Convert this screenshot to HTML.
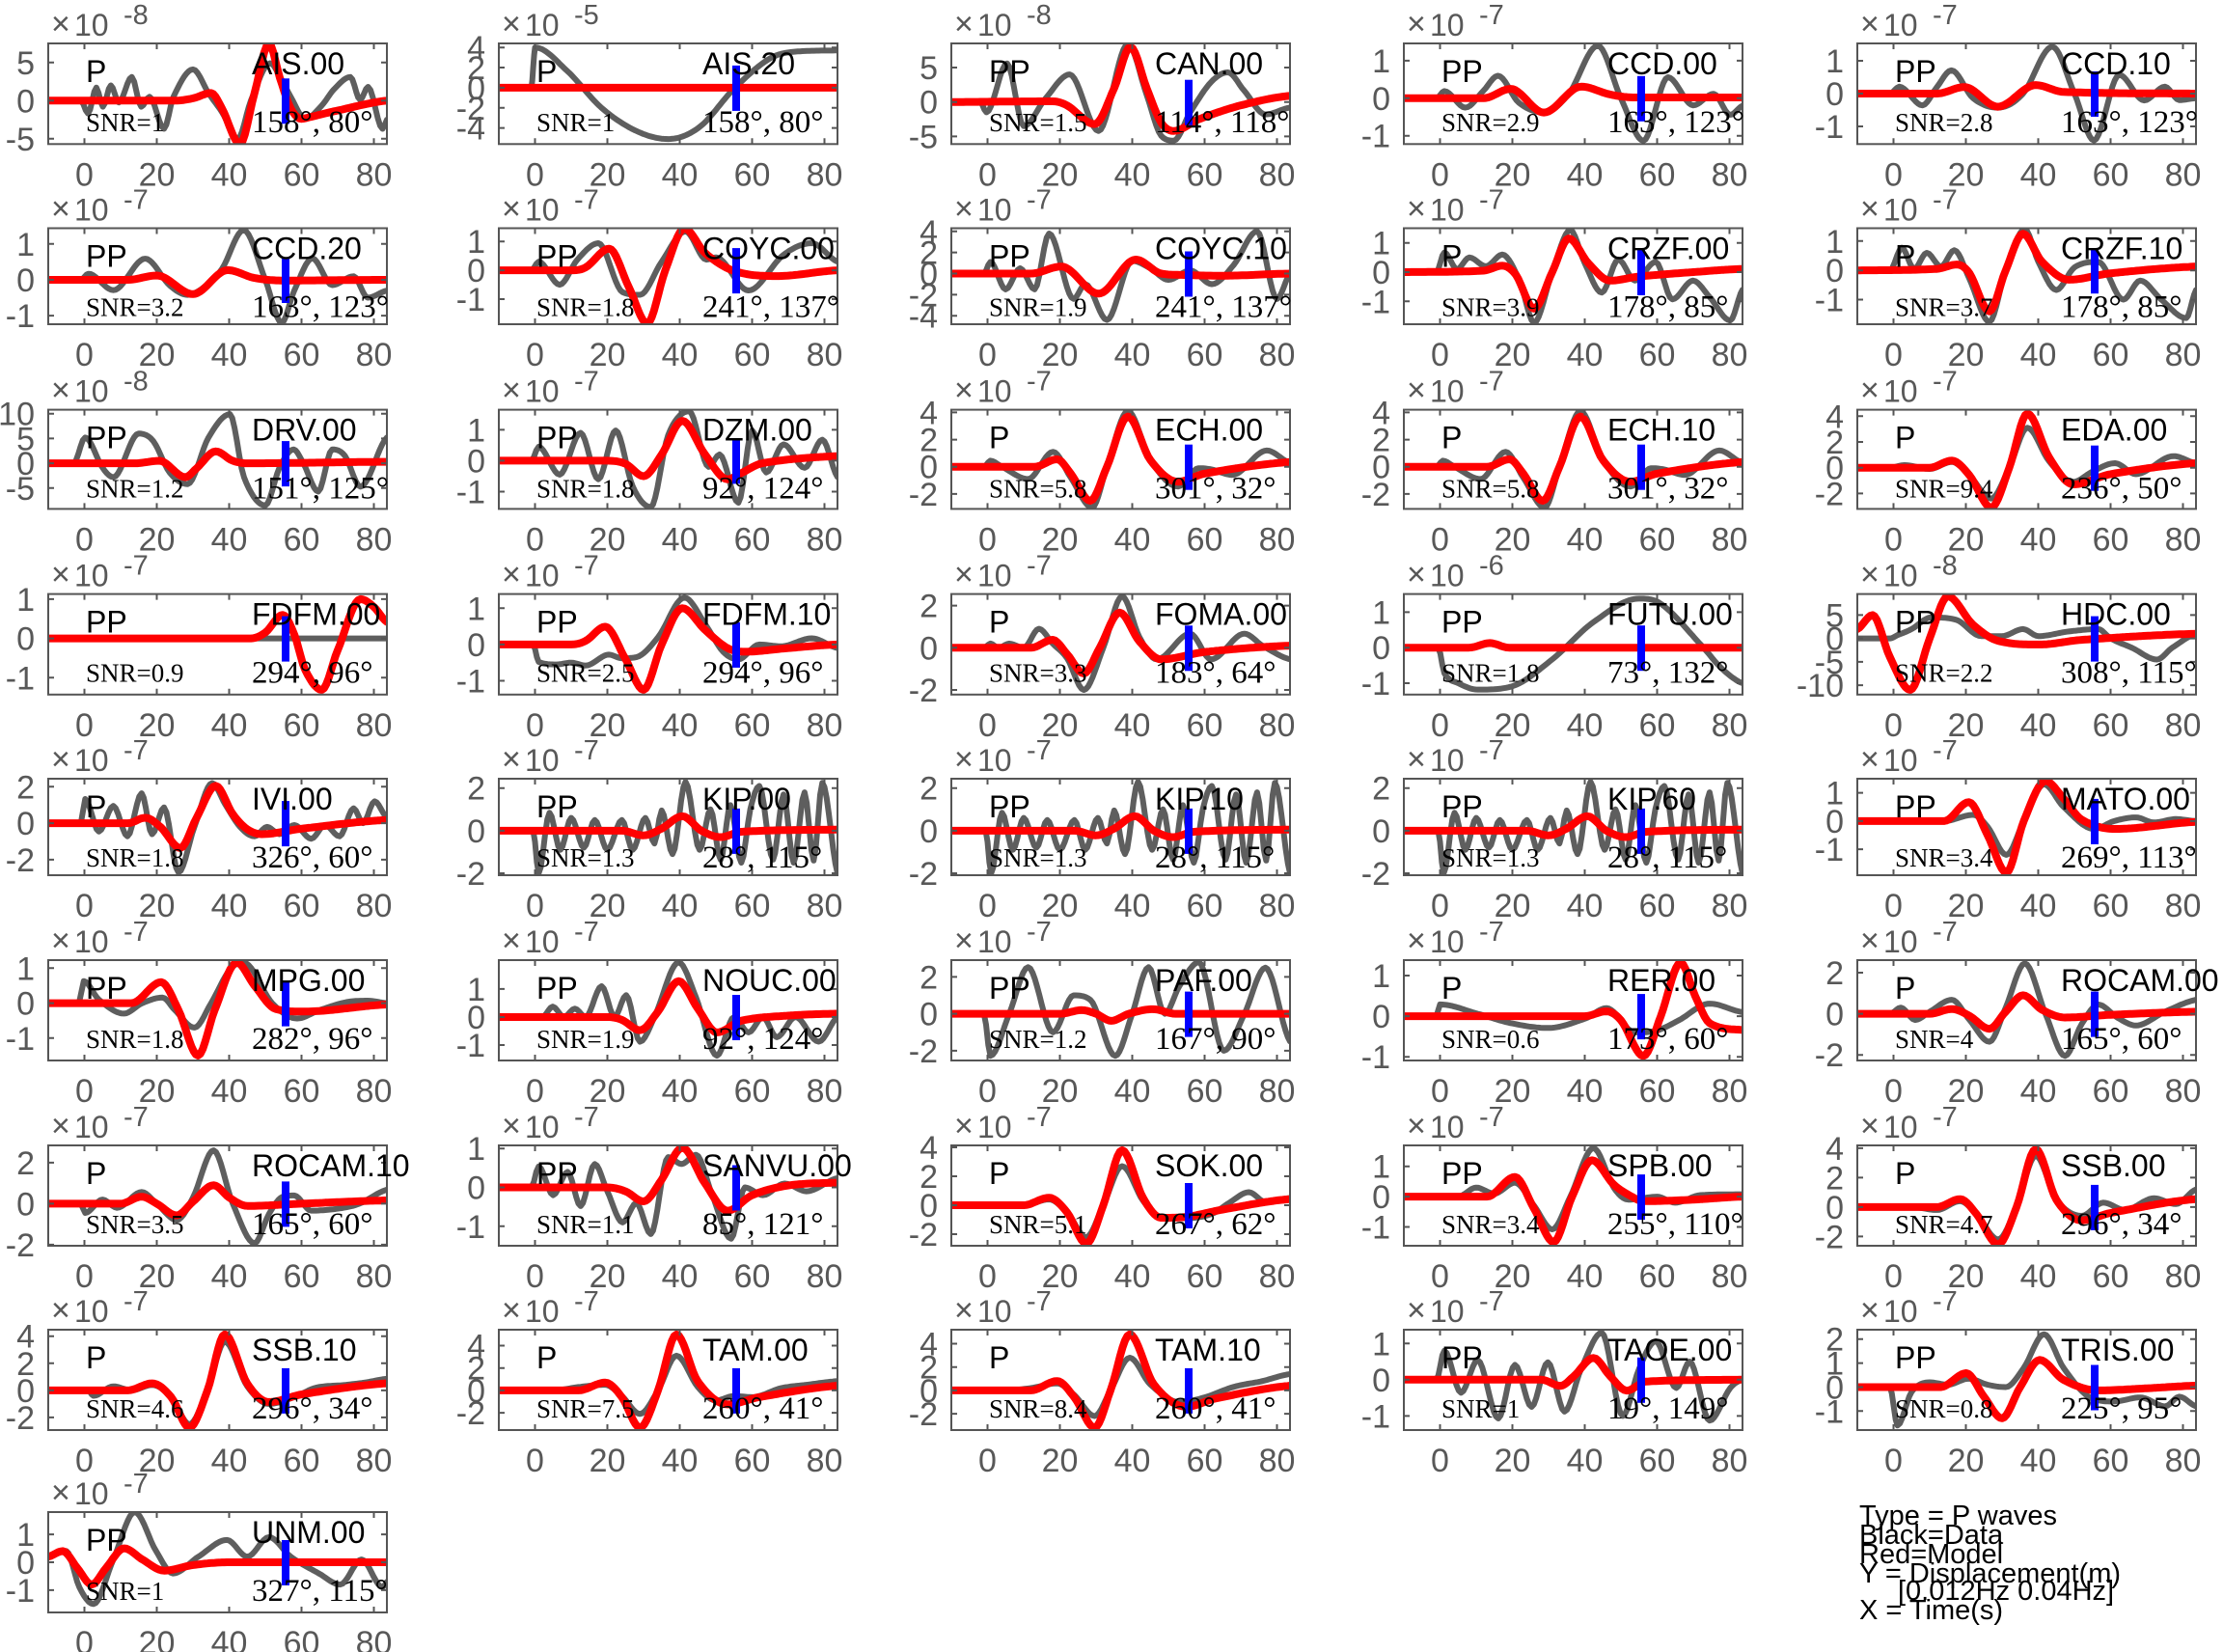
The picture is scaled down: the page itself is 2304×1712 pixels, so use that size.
<!DOCTYPE html>
<html><head><meta charset="utf-8">
<style>
html,body{margin:0;padding:0;background:#fff;}
svg{display:block}
.tk{font-family:"Liberation Sans",Arial,sans-serif;font-size:34px;fill:#585858}
.te{font-family:"Liberation Sans",Arial,sans-serif;font-size:29px;fill:#585858}
.tt{font-family:"Liberation Sans",Arial,sans-serif;font-size:32px;fill:#585858}
.tx{font-family:"Liberation Sans",Arial,sans-serif;font-size:34px;fill:#585858}
.lb{font-family:"Liberation Sans",Arial,sans-serif;font-size:32px;fill:#000}
.sn{font-family:"Liberation Serif",serif;font-size:27px;fill:#000}
.az{font-family:"Liberation Serif",serif;font-size:33px;fill:#000}
.lg{font-family:"Liberation Sans",Arial,sans-serif;font-size:29px;fill:#000}
</style></head>
<body>
<svg id="c" xmlns="http://www.w3.org/2000/svg" width="2304" height="1712" viewBox="0 0 2304 1712">
<rect x="0" y="0" width="2304" height="1712" fill="#fff"/>
<text class="lg" x="1927" y="1580">Type = P waves</text>
<text class="lg" x="1927" y="1600">Black=Data</text>
<text class="lg" x="1927" y="1620">Red=Model</text>
<text class="lg" x="1927" y="1640">Y = Displacement(m)</text>
<text class="lg" x="1967" y="1658">[0.012Hz 0.04Hz]</text>
<text class="lg" x="1927" y="1678">X = Time(s)</text>
</svg>
<script>
const rowsT=[45,236.5,424.6,615.6,807,995,1187,1378,1567];
const rowsB=[149.3,336,527.4,719.8,907,1099,1291,1482,1671];
const colsL=[50,517,986,1455,1925];
const W=351;
const ECHg=[-10,0,-1,0,0.8,0.45,4,0,11.2,-0.9,18.1,1.1,23,-0.8,28.9,-3.0,33,0,38.8,4.1,45,0.5,52.6,-1.45,58.4,-0.1,62,-0.2,67.6,-0.6,77.2,1.2,83.6,0.3];
const ECHr=[-10,0,13,0,19.2,0.55,23,-0.5,28.4,-2.5,33,0,38.8,3.7,45,0.5,52.6,-1.1,60,-0.5,83.6,0.35];
const KIPg=[-10,0,-0.5,0,1,-2.0,4,0.84,7,-0.9,10,0.6,13.5,-0.8,16.5,0.5,20,-0.9,24,0.5,27,-0.9,30.5,0.6,33,-0.6,35,0.95,38,-1.1,41.6,2.3,45.5,-0.9,48.5,1.0,51.3,-1.36,54,1.2,57,-1.5,59.5,1.0,62,2.1,65.8,-1.36,68.7,1.7,71.5,-1.5,74.5,1.8,77,-1.4,79.4,2.25,83.6,-2.0];
const KIPr=[-10,0,24,0,30,-0.22,35,0.1,40.7,0.68,46,0,51.3,-0.3,57,-0.05,83.6,0.05];
const P=[
["AIS.00","-8","P","SNR=1","158°, 80°",-5.7,7.5,[5,0,-5],
[-10,0,-1,0,1,-1.7,3.3,1.7,5.1,-0.8,7.3,2.0,9.5,-0.25,13.1,3.1,15.7,-0.8,18,0.5,22,-3.7,24.6,0.5,30,4.1,34.4,0.9,38,-1.5,42.4,-5.0,46,0,51.3,4.9,54.8,2.5,57,0.5,61,-2.4,65.5,-0.7,69,1.5,73.5,3.1,76.2,0.1,78.4,1.8,82.4,-3.7,83.6,-2.5],
[-10,0,25,0,30,0.3,35,1.0,38,-1,43,-5.7,47,1,51,7.5,54,3,57,-1,60,-2.4,62,-2.2,70,-1.3,83.6,0]],
["AIS.20","-5","P","SNR=1","158°, 80°",-5.6,4.4,[4,2,0,-2,-4],
[-10,0,-1,0,-0.5,2,0,4.0,8.8,1.7,18.4,-2,28,-4.3,36.8,-5.1,45.5,-3.9,55,-0.1,64.9,2.9,72.6,3.6,83.6,3.7],
[-10,0,83.6,0]],
["CAN.00","-8","PP","SNR=1.5","114°, 118°",-6.1,8.5,[5,0,-5],
[-10,0,-2,0,-0.3,-1.5,5.4,5.6,10,-3.5,16,0.5,22.7,4.0,30.7,-4.2,38.8,8.4,44,1,48,-4.9,51.5,-5.6,56,-1.5,61.8,2.9,66.4,4.3,71,1.6,76.8,-1.8,83.6,-0.8],
[-10,0,18,0.1,22,-0.5,29.6,-3.2,35,2,39.5,8.0,44,2,48,-3,51.5,-4.2,58.4,-2.5,69.9,-0.5,83.6,0.9]],
["CCD.00","-7","PP","SNR=2.9","163°, 123°",-1.22,1.46,[1,0,-1],
[-10,0,-1,0,1.2,0.19,7,-0.25,12,0.2,16,0.6,21.8,-0.12,28.7,-0.38,35.6,0.12,43.6,1.4,50,0,56.2,-1.13,63,0.56,70,-0.19,75.6,0.12,80.2,-0.44,83.6,-0.2],
[-10,0,12,0,19.5,0.25,28.7,-0.38,39,0.31,47,0.1,53.9,0.02,83.6,0.02]],
["CCD.10","-7","PP","SNR=2.8","163°, 123°",-1.54,1.53,[1,0,-1],
[-10,0,-1,0,1.6,0.21,8,-0.36,12,0.2,16,0.71,22,-0.14,28.8,-0.43,35.8,0,43.9,1.43,50,0,55.4,-1.43,62.4,0.57,69.3,-0.21,75,0.21,79,-0.2,83.6,-0.14],
[-10,0,12,0,19.6,0.2,28.8,-0.4,39.3,0.26,47,0.05,83.6,0]],
["CCD.20","-7","PP","SNR=3.2","163°, 123°",-1.24,1.44,[1,0,-1],
[-10,0,-1,0,1.1,0.17,8,-0.29,16.8,0.59,23.6,-0.16,28.5,-0.42,33.4,-0.18,38,0.3,44,1.39,50,0,54.5,-1.2,58,-0.3,63,0.6,68.5,-0.15,74.4,0.1,78.3,-0.5,83.6,-0.3],
[-10,0,12,0,20,0.12,30,-0.4,39.6,0.27,47,0.05,55,-0.02,83.6,0]],
["COYC.00","-7","PP","SNR=1.8","241°, 137°",-1.87,1.46,[1,0,-1],
[-10,0,-1,0,1,0.3,6.8,-0.5,11.7,0.37,17.5,0.94,24.2,-0.76,29,-0.85,35,0.3,41.6,1.35,47.4,0.37,50,0.45,59,-0.7,68.7,0.54,76.5,0.94,83.6,0.3],
[-10,0,10,0,14,0.1,20.5,0.75,26,-0.6,31,-1.85,36,0,41.3,1.45,47,0.6,55.2,-0.03,66.8,-0.2,83.6,0]],
["COYC.10","-7","PP","SNR=1.9","241°, 137°",-4.8,4.3,[4,2,0,-2,-4],
[-10,0,-1,0,0.8,1.1,5,-1.5,9,0.5,13,-1.5,17,3.8,23.8,-2.4,27,-1,33,-4.4,40,1.2,45,0.5,50,-0.6,56,0.3,62,-1,68,0.8,74.5,4.0,80,-2.4,83.6,0],
[-10,0,12,0,20.4,0.67,30.7,-1.9,41,1.33,48,0,53.7,-0.13,65,-0.2,83.6,0]],
["CRZF.00","-7","P","SNR=3.9","178°, 85°",-1.78,1.5,[1,0,-1],
[-10,0,-1,0,1.2,0.67,4.7,0.1,8.1,0.5,12.7,0.2,17.2,0.6,22,-0.3,26,-1.73,31,0,36,1.44,40,0.3,44.7,-0.7,49.3,0.43,53.9,-0.29,59.6,0.35,64.2,-0.93,69.9,-0.29,74.5,-0.85,80.2,-1.65,83.6,-0.6],
[-10,0,12,0.05,17.2,0.22,21,-0.1,26,-1.25,31,0,35.6,1.15,41,0.3,47,-0.29,55,-0.15,70,0,83.6,0.11]],
["CRZF.10","-7","P","SNR=3.7","178°, 85°",-1.84,1.44,[1,0,-1],
[-10,0,-1,0,2.3,0.77,5.7,0.05,9.2,0.6,13.1,0.13,16.8,0.69,21,-0.3,26.5,-1.76,31,0,36.3,1.41,40,0.3,45,-0.67,50,0.1,56.6,0.29,63.5,-1.0,68.2,-0.35,74,-1,80.9,-1.63,83.6,-0.67],
[-10,0,12,0.05,17.5,0.2,21,-0.1,26.5,-1.4,31,0,35.8,1.25,41,0.3,48.5,-0.32,60,-0.1,83.6,0.13]],
["DRV.00","-8","PP","SNR=1.2","151°, 125°",-9.2,10.8,[10,5,0,-5],
[-10,0,-3,0,0.2,5.2,5,-0.9,8,-2.8,15,6.0,19,4.5,23.6,-1.9,28.5,-4.2,34.3,5.2,40.2,9.9,44.1,-2.8,50,-8.5,53.9,-0.9,57.8,2.8,60.5,0,64.6,-5.7,68.5,2.8,72,1.5,76.3,-4.7,83.6,5.2],
[-10,0,14,0,20.7,0.5,27.9,-2.8,31,-1,36.3,2.4,41,0.5,45,0,83.6,0.3]],
["DZM.00","-7","PP","SNR=1.8","92°, 124°",-1.56,1.65,[1,0,-1],
[-10,0,-1,0,1,0.45,6.8,-0.45,12.6,0.9,17.5,-0.6,22.3,0.98,27,-0.83,32,-1.5,36.8,0.83,42.6,1.6,48,-0.2,51,0.2,56.2,-1.36,60,0.98,63.9,-0.38,68.7,0.53,74.5,-0.23,79.4,0.68,83.6,-0.53],
[-10,0,20,0,25,-0.1,30,-0.5,35,0.2,40.7,1.29,47,0.2,53.2,-0.6,57,-0.4,62.9,-0.08,83.6,0.15]],
["ECH.00","-7","P","SNR=5.8","301°, 32°",-3.1,4.2,[4,2,0,-2],ECHg,ECHr],
["ECH.10","-7","P","SNR=5.8","301°, 32°",-3.1,4.2,[4,2,0,-2],ECHg,ECHr],
["EDA.00","-7","P","SNR=9.4","236°, 50°",-3.2,4.5,[4,2,0,-2],
[-10,0,-1,0,3,0.2,10,-0.1,16.1,0.45,21,-0.6,27,-2.4,32,0,37,3.1,43,0.5,49.7,-1.1,55,-0.3,61.2,0.35,67,-0.5,77.4,0.9,83.6,0.35],
[-10,0,10,0,16.1,0.55,21,-0.6,27,-3.1,32,0,37,4.2,43,0.8,49.7,-1.3,60,-0.5,83.6,0.35]],
["FDFM.00","-7","PP","SNR=0.9","294°, 96°",-1.43,1.13,[1,0,-1],
[-10,0,83.6,0],
[-10,0,46,0,50,0.15,54.8,0.6,58,0.1,61,-0.8,65.6,-1.31,70,-0.3,76.3,1.0,80,0.8,83.6,0.42]],
["FDFM.10","-7","PP","SNR=2.5","294°, 96°",-1.38,1.39,[1,0,-1],
[-10,0,-0.5,0,1,-0.48,6,-0.55,10,-0.5,14,-0.58,20.4,-0.28,24,-0.38,28,-0.35,34,0.2,41.3,1.29,47.4,0.5,52,-0.2,56.2,-0.41,62,0,68,-0.05,76.5,0.17,83.6,-0.1],
[-10,0,10,0,14,0.1,19.4,0.49,25,-0.4,30,-1.25,35,0,40.7,1.0,47,0.4,53.2,-0.1,58,-0.2,70,-0.1,83.6,0]],
["FOMA.00","-7","P","SNR=3.3","183°, 64°",-2.22,2.55,[2,0,-2],
[-10,0,-1,0,0.8,0.2,3,0,6,0.2,10,0,14.2,0.9,18,0.2,22,-0.5,26.6,-2.0,32,0,37.2,2.44,42,0.5,46.8,-0.55,56,0.67,61.8,-0.55,71,0.67,76,0.1,83.6,-0.55],
[-10,0,12,0,18,0.38,22,-0.3,26.6,-1.22,31,0,36.5,1.67,42,0.3,48,-0.55,60,-0.2,83.6,0.1]],
["FUTU.00","-6","PP","SNR=1.8","73°, 132°",-1.32,1.51,[1,0,-1],
[-10,0,-0.5,0,1.2,-0.72,5,-1.0,10.4,-1.18,19.5,-1.1,31,-0.33,42.4,0.72,55,1.38,60.8,1.25,72.2,0.07,77.9,-0.59,83.6,-1.0],
[-10,0,8,0,13.8,0.13,19,0,83.6,0]],
["HDC.00","-8","PP","SNR=2.2","308°, 115°",-12,9.5,[5,0,-5,-10],
[-10,0,-1,0,1.1,0.7,5,2,10.4,4.5,17.3,4,24.2,0.5,30,0.5,35.8,2,40,0.5,48.5,1.5,56.6,2,60,0,65.9,-2,72.8,-4.5,77,-2,83.6,1],
[-10,2,-5.8,5,-1,-4,4.6,-11,10,0,15,9,21.9,3,28.9,-0.5,40.4,-1.3,52,-0.3,83.6,1]],
["IVI.00","-7","P","SNR=1.8","326°, 60°",-2.85,2.44,[2,0,-2],
[-10,0,-1,0,0.2,1.33,4,-0.46,8,0.95,11.9,-0.72,15.8,1.64,18.7,-0.6,22,0.87,26,-2.7,30.4,-0.2,35.3,2.2,39,1.0,43,-0.2,47,-0.72,50.5,-0.2,53.9,-0.6,58,-0.1,62.7,-0.85,66.5,-0.1,70.5,-0.72,74.4,0.82,77,0,80.2,1.2,83.6,0.3],
[-10,0,12,0,16.8,0.3,21,-0.2,26.5,-1.36,31,0.3,36.3,2.05,41,0.5,45,-0.33,49,-0.6,60,-0.3,83.6,0.18]],
["KIP.00","-7","PP","SNR=1.3","28°, 115°",-2.09,2.44,[2,0,-2],KIPg,KIPr],
["KIP.10","-7","PP","SNR=1.3","28°, 115°",-2.09,2.44,[2,0,-2],KIPg,KIPr],
["KIP.60","-7","PP","SNR=1.3","28°, 115°",-2.09,2.44,[2,0,-2],KIPg,KIPr],
["MATO.00","-7","PP","SNR=3.4","269°, 113°",-1.92,1.5,[1,0,-1],
[-10,0,14,0,22,0.22,26,-0.2,31.2,-1.2,36,0,41.6,1.3,47,0.5,55.4,-0.28,61,0,67,0.13,72,-0.05,78,0.07,83.6,0],
[-10,0,14,0,20.8,0.67,26,-0.5,31.2,-1.83,36,0,42,1.42,47,0.8,52,0.05,61.2,-0.28,83.6,-0.03]],
["MPG.00","-7","PP","SNR=1.8","282°, 96°",-1.64,1.23,[1,0,-1],
[-10,0,-1.5,0,-0.2,0.63,4,0.1,10.9,-0.3,16,0,21.6,0.16,25,-0.2,30.4,-0.7,35,0,40.2,0.96,44,1.16,51.9,0,58.8,-0.44,65,-0.2,72.4,0.03,78.3,0.07,83.6,0],
[-10,0,13,0,21.2,0.6,26,-0.2,31.4,-1.5,36,-0.2,42.1,1.16,47,0.5,52.9,-0.17,60.7,-0.24,83.6,-0.04]],
["NOUC.00","-7","PP","SNR=1.9","92°, 124°",-1.55,2.03,[1,0,-1],
[-10,0,2,0,4.9,0.37,8,0,11,0.3,14,0,18.4,1.1,22,0,25.2,0.78,29,-0.88,33,0,39.7,1.95,44.5,0.7,50.3,-1.38,55,0,59,-0.55,63,0,66.8,-0.72,72,0,78.4,-0.88,83.6,0],
[-10,0,20,0,24,-0.1,29,-0.47,34,0.2,39.7,1.28,45,0.3,50.3,-0.55,57.1,-0.13,70,0.05,83.6,0.12]],
["PAF.00","-7","PP","SNR=1.2","167°, 90°",-2.53,2.91,[2,0,-2],
[-10,0,-1,0,0.8,-2.28,6,0,11.2,2.53,18.1,-1.0,23.8,1.0,28.4,0.76,35.3,-2.28,40,0,44.5,2.53,49,0,53,1.5,58.4,2.8,65.3,-2.0,71,0,76.8,2.5,83.6,-1.5],
[-10,0,20,0,26.1,0.2,30,0,34.2,-0.38,39,0,45.7,0.25,52,0,83.6,0]],
["RER.00","-7","P","SNR=0.6","173°, 60°",-1.09,1.38,[1,0,-1],
[-10,0,-1,0,0,0.29,10.4,0.06,19.5,-0.17,29.8,-0.29,40.1,-0.06,46,0.2,53.9,-0.4,60,-0.35,66,-0.1,74.5,0.31,83.6,0.1],
[-10,0,40,0,45.9,0.12,50,-0.1,56.2,-0.98,61,0,66.5,1.32,70.5,0.5,74.5,-0.17,83.6,-0.34]],
["ROCAM.00","-7","P","SNR=4","165°, 60°",-2.27,2.61,[2,0,-2],
[-10,0,-1,0,2,0.3,6,-0.3,10,0.1,16.1,0.68,21,-0.3,26.5,-1.36,31,0.3,36.3,2.45,42,0,47.4,-2.05,52,-0.5,56.6,0.45,62,-0.2,67,-0.57,75,0.1,83.6,0.68],
[-10,0,10,0,16.1,0.23,21,-0.1,26.5,-0.73,31,0.1,35.8,0.9,41,0.2,47.4,-0.18,60,-0.05,83.6,0.1]],
["ROCAM.10","-7","P","SNR=3.5","165°, 60°",-2.05,2.84,[2,0,-2],
[-10,0,-1,0,0.2,-0.45,5,0.2,9,-0.2,15.8,0.57,20,0,25.5,-0.8,30,0.3,35.7,2.6,41,0,47,-1.93,51,-0.5,54.8,0.34,58,0.4,62.7,-0.34,70.5,-0.23,76,0,83.6,0.68],
[-10,0,10,0,15.8,0.34,20,0,25.5,-0.57,30,0.1,35.7,0.9,40,0.3,45,-0.11,60,0,83.6,0.16]],
["SANVU.00","-7","PP","SNR=1.1","85°, 121°",-1.5,1.08,[1,0,-1],
[-10,0,-1,0,1,0.54,5,-0.2,9,0.4,12.6,-0.48,16.5,0.6,20,-0.1,24.2,-0.9,28,-0.4,32,-1.2,36.8,0.78,40.5,0.6,44.5,0.84,49,-0.2,54.2,-1.32,58,0,63,-0.2,69,0.1,75,-0.1,83.6,0.24],
[-10,0,20,0,25,-0.1,30,-0.36,35,0.2,40.7,1.02,47,0.1,53.2,-0.6,60,-0.2,70,0.05,83.6,0.12]],
["SOK.00","-7","P","SNR=5.1","267°, 62°",-2.8,4.13,[4,2,0,-2],
[-10,0,-1,0,10,0,17,0.4,22,-0.5,27.3,-2.2,32,0,37.2,2.7,43,0.3,48,-0.9,55,-0.9,62,-0.6,67,0.2,72.2,0.9,77,0.2,83.6,0.5],
[-10,0,10,0,17,0.52,22,-0.5,27.3,-2.65,32,0,37.2,3.8,43,0.5,48,-0.87,55,-0.8,65,-0.3,83.6,0.42]],
["SPB.00","-7","PP","SNR=3.4","255°, 110°",-1.62,1.69,[1,0,-1],
[-10,0,5,0,10,0.3,15,0.1,20.7,0.46,26,-0.3,31,-1.08,36,0,42.4,1.6,48,0.3,52,-0.1,56,-0.05,60,0,65,-0.2,72,0.05,83.6,0.08],
[-10,0,13,0,20.7,0.65,26,-0.4,31.4,-1.5,36.5,0,42,1.2,48,0.4,53,0,56.2,-0.15,70,-0.1,83.6,0]],
["SSB.00","-7","P","SNR=4.7","296°, 34°",-2.63,4.19,[4,2,0,-2],
[-10,0,5,0,12,-0.2,18.4,0.4,23,-0.5,28.9,-2.2,34,0,39.3,3.5,45,0.5,52,-0.6,58,0.3,64,-0.2,72,0.6,78,0.2,83.6,1.2],
[-10,0,12,0,18.4,0.54,23,-0.5,28.9,-2.54,34,0,39.3,3.94,45,0.5,52,-0.9,60,-0.4,83.6,0.54]],
["SSB.10","-7","P","SNR=4.6","296°, 34°",-2.93,4.48,[4,2,0,-2],
[-10,0,1,0,2.5,-0.4,8,0.3,13,0,18.7,0.4,24,-0.5,29,-2.5,34,0,38.8,3.6,45,0.3,51,-1.0,58,-0.5,64,0.2,72,0.4,78,0.6,83.6,0.86],
[-10,0,12,0,18.7,0.52,24,-0.5,29,-2.76,34,0,38.8,4.14,45,0.5,51,-0.86,60,-0.3,83.6,0.52]],
["TAM.00","-7","P","SNR=7.5","260°, 41°",-3.54,5.42,[4,2,0,-2],
[-10,0,5,0,12,0.3,19.4,0.5,24,-0.5,29,-2.1,34,0,39.1,3.1,45,0.3,50,-0.9,55,-0.5,60,-0.6,68,0.2,75,0.5,83.6,0.83],
[-10,0,12,0,19.4,0.7,24,-0.6,29,-3.33,34,0,39.1,5.0,45,0.8,53.2,-1.25,62,-0.6,83.6,0.42]],
["TAM.10","-7","P","SNR=8.4","260°, 41°",-3.4,5.2,[4,2,0,-2],
[-10,0,5,0,12,0.2,19.2,0.6,24,-0.4,29.6,-2.2,34,0,39.3,2.8,45,0.5,53,-1.0,60,-0.6,68,0.3,76,0.8,83.6,1.4],
[-10,0,12,0,19.2,0.8,24,-0.6,29.6,-3.2,34,0,39.3,4.8,46,0.5,55,-1.4,63,-0.7,83.6,0.4]],
["TAOE.00","-7","PP","SNR=1","19°, 149°",-1.39,1.38,[1,0,-1],
[-10,0,-1,0,1.2,0.8,5.8,-0.36,10.4,0.54,16.1,-1.07,20.7,0.41,25.3,-0.75,29.8,0.48,34.4,-0.88,39,0.3,44.7,1.3,50.5,-1.0,55,0.3,59.6,1.06,65.3,-0.23,69,0.5,74.5,-1.13,80.2,-0.23,83.6,0],
[-10,0,28,0,33.3,-0.17,37,0.1,42.4,0.6,47,0.1,51.6,-0.3,57,-0.05,83.6,0]],
["TRIS.00","-7","PP","SNR=0.8","225°, 95°",-1.79,2.39,[2,1,0,-1],
[-10,0,-1,0,1.1,-1.6,5,-0.2,10,0.2,15,0.1,20.8,0.35,26,0.1,31,0.0,36,0.8,41.6,2.2,47,0.8,54.3,-0.43,61,-0.6,68.2,-0.43,75.1,-0.8,79,-0.4,83.6,-0.8],
[-10,0,13,0,20.1,0.58,25,-0.4,30,-1.3,35,0,40.4,1.13,47,0.3,56.6,-0.14,70,-0.05,83.6,0.06]],
["UNM.00","-7","PP","SNR=1","327°, 115°",-1.8,1.8,[1,0,-1],
[-10,0.2,-5,0.4,-1.4,-0.9,2.5,-1.5,8,0.1,13.9,1.8,19.8,0.4,24.5,-0.4,31.5,0.2,39.4,0.8,45,0.2,51,0.9,57,0.2,64.8,-0.4,70.7,-0.8,76.6,0.1,82.4,-0.9,83.6,-0.7],
[-10,0.2,-6,0.4,-2,-0.2,2,-0.8,6,-0.2,11,0.5,16,0.1,22,-0.3,30,-0.1,40,0,83.6,0]]
];
const NS='http://www.w3.org/2000/svg';
const svg=document.getElementById('c');
function mk(tag,at,par,text){const e=document.createElementNS(NS,tag);for(const k in at)e.setAttribute(k,at[k]);if(text!==undefined&&text!==null)e.textContent=text;(par||svg).appendChild(e);return e;}
function curve(a,X,Y){
  const n=a.length/2,xs=[],ys=[];
  for(let i=0;i<n;i++){xs.push(a[2*i]);ys.push(a[2*i+1]);}
  const d=[];for(let i=0;i<n-1;i++)d.push((ys[i+1]-ys[i])/(xs[i+1]-xs[i]));
  const m=[];
  for(let i=0;i<n;i++){
    if(i===0){m.push(n>1?d[0]*0.5:0);continue;}
    if(i===n-1){m.push(d[n-2]*0.5);continue;}
    if(d[i-1]*d[i]<=0){m.push(0);continue;}
    let s=(ys[i+1]-ys[i-1])/(xs[i+1]-xs[i-1]);
    const lim=3*Math.min(Math.abs(d[i-1]),Math.abs(d[i]));
    if(Math.abs(s)>lim)s=Math.sign(s)*lim;
    m.push(s);
  }
  let p='M'+X(xs[0]).toFixed(1)+','+Y(ys[0]).toFixed(1);
  for(let i=0;i<n-1;i++){
    const h=xs[i+1]-xs[i];
    const N=Math.max(2,Math.ceil(h*1.5));
    for(let k=1;k<=N;k++){
      const s=k/N,s2=s*s,s3=s2*s;
      const h00=2*s3-3*s2+1,h10=s3-2*s2+s,h01=-2*s3+3*s2,h11=s3-s2;
      const x=xs[i]+s*h;
      const y=h00*ys[i]+h10*h*m[i]+h01*ys[i+1]+h11*h*m[i+1];
      p+='L'+X(x).toFixed(1)+','+Y(y).toFixed(1);
    }
  }
  return p;
}
const defs=mk('defs',{});
P.forEach((p,i)=>{
  const r=Math.floor(i/5),c=i%5;
  const L=colsL[c],T=rowsT[r],B=rowsB[r],H=B-T;
  const [name,ex,ph,snr,az,lo,hi,ticks,gr,rd]=p;
  const X=t=>L+(t+10)*3.75;
  const Y=v=>T+(hi-v)/(hi-lo)*H;
  const cid='k'+i;
  const cp=mk('clipPath',{id:cid},defs);
  mk('rect',{x:L,y:T,width:W,height:H},cp);
  const g=mk('g',{'clip-path':'url(#'+cid+')'});
  mk('path',{d:curve(gr,X,Y),fill:'none',stroke:'#5e5e5e','stroke-width':6,'stroke-linejoin':'round','stroke-linecap':'round'},g);
  mk('path',{d:curve(rd,X,Y),fill:'none',stroke:'#ff0000','stroke-width':8,'stroke-linejoin':'round','stroke-linecap':'round'},g);
  mk('rect',{x:L+242,y:(Y(0)-23).toFixed(1),width:8,height:47,fill:'#0000ff'});
  mk('rect',{x:L,y:T,width:W,height:H,fill:'none',stroke:'#555','stroke-width':2});
  let d='';
  for(let t=0;t<=80;t+=20){const x=X(t).toFixed(1);d+='M'+x+','+B+'v-6M'+x+','+T+'v6';}
  ticks.forEach(v=>{const y=Y(v).toFixed(1);d+='M'+L+','+y+'h6M'+(L+W)+','+y+'h-6';});
  mk('path',{d:d,stroke:'#555','stroke-width':2,fill:'none'});
  for(let t=0;t<=80;t+=20)mk('text',{x:X(t).toFixed(1),y:(B+43).toFixed(1),'text-anchor':'middle','class':'tk'},null,String(t));
  ticks.forEach(v=>mk('text',{x:L-14,y:(Y(v)+12).toFixed(1),'text-anchor':'end','class':'tk'},null,String(v)));
  mk('text',{x:L+3,y:T-9,'class':'tx'},null,'\u00d7');
  mk('text',{x:L+27,y:T-8,'class':'tt'},null,'10');
  mk('text',{x:L+78,y:T-20,'class':'te'},null,ex);
  mk('text',{x:L+39,y:T+40,'class':'lb'},null,ph);
  mk('text',{x:L+211,y:T+32,'class':'lb'},null,name);
  mk('text',{x:L+39,y:T+91,'class':'sn'},null,snr);
  mk('text',{x:L+211,y:T+92,'class':'az'},null,az);
});
</script>
</body></html>
